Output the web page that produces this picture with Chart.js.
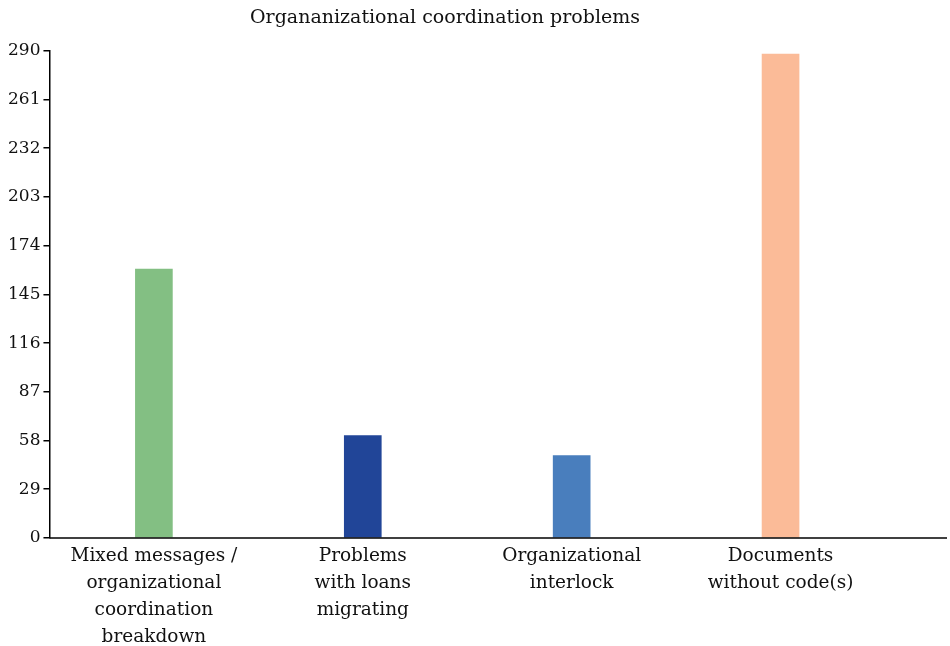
<!DOCTYPE html>
<html>
<head>
<meta charset="utf-8">
<script src="https://cdn.jsdelivr.net/npm/chart.js@4"></script>
<style>
    body { margin: 0; background: #fff; }
    #wrap { width: 950px; height: 646px; }
</style>
</head>
<body>
<div id="wrap"><canvas id="myChart" width="950" height="646"></canvas></div>
<script>
var kategorien = [
    ["Mixed messages /", "organizational", "coordination", "breakdown"],
    ["Problems", "with loans", "migrating"],
    ["Organizational", "interlock"],
    ["Documents", "without code(s)"]
];
var werte = [160, 61, 49, 288];
var farben = ["#83bf83", "#214598", "#497ebd", "#fbbb98"];
var yTicks = [0, 29, 58, 87, 116, 145, 174, 203, 232, 261, 290];

// x axis line runs on past the last category
var achsePlugin = {
    id: 'achse',
    afterDraw: function (chart) {
        var ctx = chart.ctx;
        var a = chart.chartArea;
        ctx.save();
        ctx.strokeStyle = "#000";
        ctx.lineWidth = 1.5;
        ctx.beginPath();
        ctx.moveTo(a.left, a.bottom);
        ctx.lineTo(chart.width - 3, a.bottom);
        ctx.stroke();
        ctx.restore();
    }
};

var canvas = document.getElementById('myChart');
var mychart = new Chart(canvas, {
    type: 'bar',
    data: {
        labels: kategorien,
        datasets: [{
                data: werte,
                backgroundColor: farben,
                barThickness: 37
            }
        ]
    },
    options: {
        responsive: false,
        animation: false,
        layout: {
            padding: {left: 5, right: 65, top: 0, bottom: -2}
        },
        plugins: {
            legend: {display: false},
            tooltip: {enabled: false},
            title: {
                display: true,
                text: 'Organanizational coordination problems',
                color: "#111",
                font: {family: "DejaVu Serif", size: 19, weight: 'normal'},
                padding: {top: 7, bottom: 21}
            }
        },
        scales: {
            y: {
                min: 0,
                max: 290,
                afterBuildTicks: function (axis) {
                    axis.ticks = yTicks.map(function (v) {
                        return {value: v};
                    });
                },
                ticks: {
                    color: "#111",
                    padding: 3,
                    font: {family: "DejaVu Serif", size: 17}
                },
                grid: {
                    drawOnChartArea: false,
                    drawTicks: true,
                    tickLength: 6,
                    color: "#000",
                    lineWidth: 1.5
                },
                border: {color: "#000", width: 1.5}
            },
            x: {
                ticks: {
                    color: "#111",
                    padding: -3,
                    maxRotation: 0,
                    font: {family: "DejaVu Serif", size: 18.5, lineHeight: 1.46}
                },
                grid: {display: false},
                border: {display: false}
            }
        }
    },
    plugins: [achsePlugin]
});
</script>
</body>
</html>
